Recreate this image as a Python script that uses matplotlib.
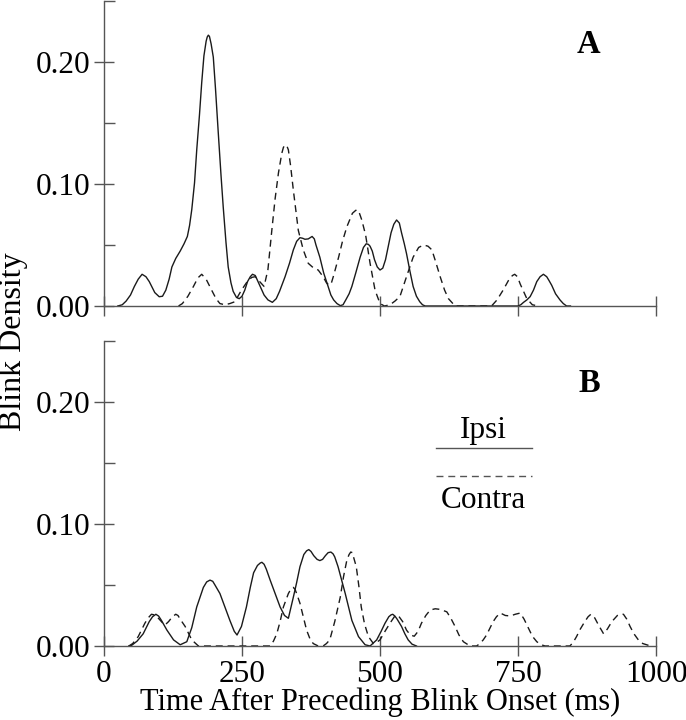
import matplotlib
matplotlib.use("Agg")
import matplotlib.pyplot as plt
from matplotlib.ticker import MultipleLocator, FormatStrFormatter

plt.rcParams["font.family"] = ["Liberation Serif", "DejaVu Serif"]
plt.rcParams["lines.scale_dashes"] = False

# panel A (top): time (ms) / blink density
ipsi_a_t = [25, 33, 40, 48, 55, 62, 69, 76, 82, 92, 100, 106, 112, 118, 123, 130, 138,
            145, 151, 155, 159, 164, 168, 173, 177, 181, 185, 187, 189, 191, 194, 198,
            202, 207, 212, 216, 221, 225, 230, 234, 240, 245, 250, 255, 260, 265, 269,
            274, 278, 284, 290, 297, 305, 312, 318, 323, 328, 336, 343, 349, 355, 360,
            364, 370, 377, 381, 384, 391, 398, 406, 411, 416, 422, 428, 433, 438, 444,
            449, 456, 464, 470, 475, 479, 482, 486, 490, 495, 500, 505, 510, 515, 520,
            525, 530, 535, 539, 544, 548, 554, 560, 566, 572, 577, 582, 750, 755, 760,
            766, 772, 778, 784, 790, 796, 802, 806, 811, 818, 826, 832, 838, 845]
ipsi_a_d = [0, 0.001, 0.004, 0.009, 0.016, 0.022, 0.026, 0.024, 0.020, 0.011, 0.0076,
            0.008, 0.013, 0.022, 0.032, 0.039, 0.045, 0.051, 0.057, 0.066, 0.079, 0.101,
            0.128, 0.157, 0.183, 0.205, 0.217, 0.2205, 0.222, 0.221, 0.215, 0.204, 0.178,
            0.142, 0.107, 0.081, 0.052, 0.032, 0.019, 0.012, 0.007, 0.006, 0.008, 0.013,
            0.020, 0.024, 0.026, 0.025, 0.021, 0.015, 0.009, 0.005, 0.003, 0.006, 0.012,
            0.018, 0.024, 0.035, 0.046, 0.053, 0.056, 0.0555, 0.0547, 0.055, 0.057,
            0.055, 0.050, 0.040, 0.027, 0.016, 0.009, 0.005, 0.002, 0.0003, 0.001, 0.005,
            0.010, 0.016, 0.027, 0.040, 0.048, 0.051, 0.0505, 0.049, 0.045, 0.038, 0.032,
            0.0295, 0.031, 0.038, 0.049, 0.060, 0.067, 0.0705, 0.068, 0.060, 0.051, 0.043,
            0.029, 0.016, 0.008, 0.0035, 0.001, 0, 0, 0.001, 0.003, 0.005, 0.0077, 0.013,
            0.020, 0.024, 0.026, 0.024, 0.021, 0.017, 0.010, 0.005, 0.002, 0, 0]

contra_a_t = [135, 142, 152, 162, 170, 177, 185, 195, 203, 210, 219, 228, 237, 249, 261,
              268, 274, 282, 290, 297, 304, 310, 316, 322, 325, 328, 331, 334, 338, 343,
              352, 361, 370, 380, 388, 397, 403, 408, 412, 416, 425, 432, 440, 450, 455,
              458, 462, 467, 474, 482, 491, 500, 508, 518, 527, 536, 548, 560, 570, 579,
              587, 594, 601, 609, 617, 624, 636, 702, 712, 723, 734, 740, 744, 749, 754,
              766, 776, 787]
contra_a_d = [0, 0.002, 0.008, 0.016, 0.023, 0.026, 0.022, 0.013, 0.006, 0.002, 0.001,
              0.002, 0.0035, 0.013, 0.021, 0.0235, 0.024, 0.020, 0.016, 0.030, 0.062,
              0.088, 0.109, 0.125, 0.130, 0.132, 0.1315, 0.128, 0.115, 0.095, 0.062, 0.046,
              0.035, 0.031, 0.0295, 0.024, 0.019, 0.017, 0.019, 0.025, 0.040, 0.053, 0.065,
              0.076, 0.078, 0.079, 0.077, 0.0705, 0.058, 0.035, 0.013, 0.002, 0, 0.001,
              0.004, 0.0077, 0.024, 0.040, 0.048, 0.050, 0.049, 0.046, 0.036, 0.024, 0.013,
              0.006, 0, 0, 0.005, 0.013, 0.022, 0.025, 0.026, 0.024, 0.018, 0.006, 0.001, 0]

# panel B (bottom)
ipsi_b_t = [45, 50, 60, 71, 82, 88, 94, 99, 104, 114, 126, 138, 150, 159, 168, 180, 186,
            192, 197, 201, 210, 219, 228, 236, 241, 249, 258, 265, 271, 278, 283, 286,
            290, 294, 301, 310, 319, 327, 334, 343, 349, 355, 362, 367, 371, 375, 380,
            386, 391, 396, 401, 406, 411, 415, 418, 424, 437, 449, 461, 473, 482, 494,
            502, 509, 516, 520, 523, 527, 531, 539, 545, 551, 558, 566]
ipsi_b_d = [0, 0.0005, 0.004, 0.010, 0.020, 0.024, 0.026, 0.0245, 0.021, 0.013, 0.005,
            0.001, 0.0035, 0.015, 0.032, 0.048, 0.0525, 0.054, 0.053, 0.050, 0.043, 0.032,
            0.021, 0.012, 0.009, 0.016, 0.032, 0.048, 0.060, 0.066, 0.068, 0.0686, 0.067,
            0.063, 0.054, 0.043, 0.032, 0.025, 0.0227, 0.040, 0.052, 0.065, 0.075, 0.078,
            0.079, 0.0775, 0.074, 0.071, 0.070, 0.071, 0.074, 0.0765, 0.077, 0.0755, 0.073,
            0.065, 0.043, 0.021, 0.0077, 0.001, 0, 0.005, 0.012, 0.0186, 0.024, 0.0255,
            0.026, 0.0245, 0.022, 0.016, 0.010, 0.005, 0.0015, 0]

contra_b_t = [45, 52, 62, 74, 80, 86, 91, 96, 104, 110, 117, 124, 130, 134, 138, 147, 159,
              171, 301, 307, 313, 319, 325, 334, 339, 343, 346, 349, 355, 361, 367, 373,
              379, 388, 397, 403, 409, 418, 428, 434, 440, 444, 447, 450, 452, 457, 462,
              466, 472, 479, 488, 494, 500, 509, 518, 526, 533, 541, 548, 555, 562, 569,
              575, 583, 591, 600, 609, 615, 621, 628, 636, 643, 651, 663, 675, 681, 687,
              693, 699, 705, 711, 718, 727, 736, 745, 754, 761, 769, 776, 784, 792, 799,
              844, 850, 856, 863, 871, 877, 882, 889, 896, 905, 912, 920, 930, 936, 941,
              947, 953, 960, 968, 976, 983, 990]
contra_b_d = [0, 0.002, 0.0077, 0.0186, 0.023, 0.026, 0.0255, 0.024, 0.020, 0.017, 0.020,
              0.024, 0.026, 0.025, 0.022, 0.016, 0.005, 0, 0, 0.004, 0.010, 0.020, 0.032,
              0.043, 0.047, 0.048, 0.0465, 0.043, 0.035, 0.024, 0.013, 0.006, 0.002, 0, 0,
              0.002, 0.005, 0.020, 0.040, 0.057, 0.0705, 0.075, 0.077, 0.0765, 0.073, 0.065,
              0.048, 0.032, 0.018, 0.0077, 0.002, 0.003, 0.005, 0.012, 0.0186, 0.024, 0.025,
              0.020, 0.013, 0.009, 0.008, 0.012, 0.0186, 0.025, 0.0295, 0.0305, 0.030,
              0.029, 0.028, 0.023, 0.016, 0.009, 0.0035, 0, 0, 0.002, 0.005, 0.009, 0.0145,
              0.020, 0.024, 0.027, 0.025, 0.0246, 0.026, 0.027, 0.022, 0.0145, 0.008,
              0.0035, 0.001, 0, 0, 0.003, 0.0077, 0.014, 0.020, 0.024, 0.026, 0.023, 0.017,
              0.010, 0.014, 0.020, 0.025, 0.026, 0.026, 0.022, 0.016, 0.010, 0.005, 0.002,
              0.001, 0]

x_ticks = [0, 250, 500, 750, 1000]
panel_labels = ["A", "B"]
legend_labels = ["Ipsi", "Contra"]

LINE = "#1a1a1a"
AXC = "#555555"
FS = 22.5
DASH = (0, (5, 3.5))

fig = plt.figure(figsize=(6.86, 7.2), dpi=100)
ax_a = fig.add_axes([0.1516, 0.575, 0.8047, 0.4236])
ax_b = fig.add_axes([0.1516, 0.1028, 0.8047, 0.4236])

for ax in (ax_a, ax_b):
    ax.set_xlim(0, 1000)
    ax.set_ylim(0, 0.25)
    ax.spines["top"].set_visible(False)
    ax.spines["right"].set_visible(False)
    for s in ("left", "bottom"):
        ax.spines[s].set_color(AXC)
        ax.spines[s].set_linewidth(1.0)
    ax.set_xticks(x_ticks)
    ax.yaxis.set_major_locator(MultipleLocator(0.10))
    ax.yaxis.set_minor_locator(MultipleLocator(0.05))
    ax.yaxis.set_major_formatter(FormatStrFormatter("%.2f"))
    ax.tick_params(axis="both", which="major", direction="inout", length=14.5,
                   width=1.0, color=AXC, labelsize=FS, pad=2.5)
    ax.tick_params(axis="y", which="minor", direction="in", length=8, width=1.0, color=AXC)
    ax.set_facecolor("none")

ax_a.tick_params(axis="x", labelbottom=False)

ax_a.plot(ipsi_a_t, ipsi_a_d, color=LINE, lw=1.0)
ax_a.plot(contra_a_t, contra_a_d, color=LINE, lw=1.0, linestyle=DASH)
ax_b.plot(ipsi_b_t, ipsi_b_d, color=LINE, lw=1.0)
ax_b.plot(contra_b_t, contra_b_d, color=LINE, lw=1.0, linestyle=DASH)

ax_a.text(0.877, 0.8295, panel_labels[0], transform=ax_a.transAxes, ha="center",
          va="baseline", fontsize=FS + 1, fontweight="bold")
ax_b.text(0.879, 0.833, panel_labels[1], transform=ax_b.transAxes, ha="center",
          va="baseline", fontsize=FS + 1, fontweight="bold")

# hand-drawn legend in panel B
ax_b.plot([0.601, 0.775], [0.648, 0.648], transform=ax_b.transAxes, color=AXC, lw=1.0)
ax_b.plot([0.601, 0.775], [0.556, 0.556], transform=ax_b.transAxes, color=AXC, lw=1.0,
          linestyle=DASH)
ax_b.text(0.688, 0.682, legend_labels[0], transform=ax_b.transAxes, ha="center",
          va="baseline", fontsize=FS)
ax_b.text(0.688, 0.4525, legend_labels[1], transform=ax_b.transAxes, ha="center",
          va="baseline", fontsize=FS)

ax_b.set_xlabel("Time After Preceding Blink Onset (ms)", fontsize=22, labelpad=-0.5)
fig.text(0.019, 0.525, "Blink Density", rotation=90, ha="center", va="center",
         fontsize=FS + 0.5)

fig.savefig("out.png", dpi=100)
plt.close(fig)
